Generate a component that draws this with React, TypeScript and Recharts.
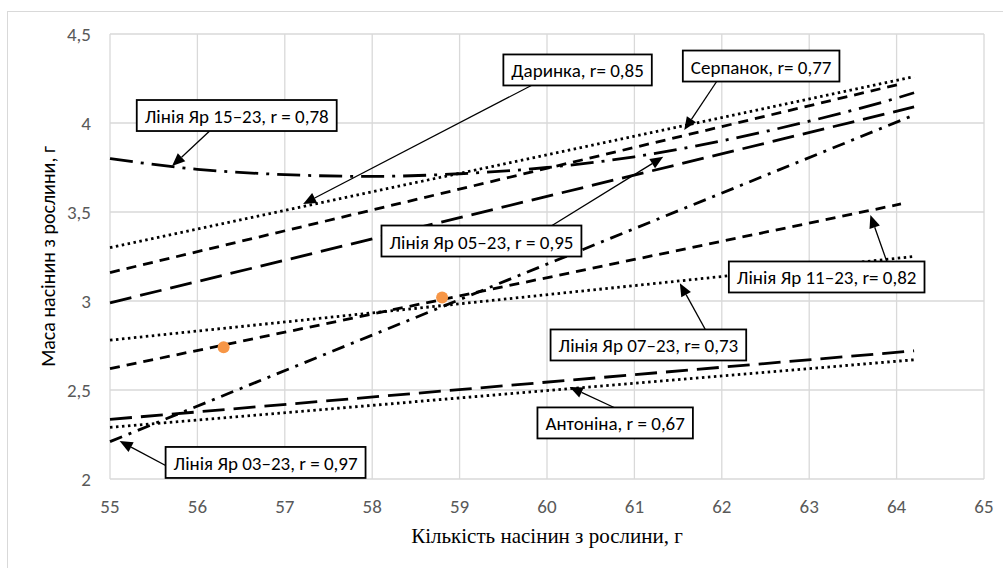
import React from "react";
import {
  ComposedChart,
  Line,
  Scatter,
  XAxis,
  YAxis,
  CartesianGrid,
  ReferenceLine,
  ReferenceDot,
} from "recharts";

// ticks
const xTicks = [55, 56, 57, 58, 59, 60, 61, 62, 63, 64, 65];
const yTicks = [2, 2.5, 3, 3.5, 4, 4.5];

// trend lines
const darynka = [
  { x: 55, y: 3.3 },
  { x: 64.2, y: 4.26 },
];
const serpanok = [
  { x: 55, y: 3.16 },
  { x: 64.05, y: 4.22 },
];
const yar15 = [
  { x: 55, y: 3.8 },
  { x: 56, y: 3.74 },
  { x: 57, y: 3.71 },
  { x: 58, y: 3.7 },
  { x: 59, y: 3.715 },
  { x: 60, y: 3.75 },
  { x: 61, y: 3.81 },
  { x: 62, y: 3.9 },
  { x: 63, y: 4.01 },
  { x: 64, y: 4.14 },
  { x: 64.2, y: 4.17 },
];
const yar05 = [
  { x: 55, y: 2.99 },
  { x: 64.2, y: 4.09 },
];
const yar03 = [
  { x: 55, y: 2.21 },
  { x: 64.2, y: 4.045 },
];
const yar11 = [
  { x: 55, y: 2.62 },
  { x: 64.05, y: 3.545 },
];
const yar07 = [
  { x: 55, y: 2.78 },
  { x: 64.2, y: 3.25 },
];
const antonina = [
  { x: 55, y: 2.29 },
  { x: 64.2, y: 2.67 },
];
const lowerDash = [
  { x: 55, y: 2.335 },
  { x: 64.2, y: 2.72 },
];
const points = [
  { x: 56.3, y: 2.74 },
  { x: 58.8, y: 3.02 },
];

// callouts: box centre, arrow start, arrow tip (data units)
const notes = [
  { text: "Лінія Яр 15–23, r = 0,78", bx: 56.45, by: 4.042, sx: 56.14, sy: 3.955, tx: 55.71, ty: 3.758 },
  { text: "Даринка, r= 0,85", bx: 60.35, by: 4.298, sx: 59.92, sy: 4.236, tx: 57.21, ty: 3.545 },
  { text: "Серпанок, r= 0,77", bx: 62.45, by: 4.32, sx: 61.945, sy: 4.236, tx: 61.57, ty: 3.96 },
  { text: "Лінія Яр 05–23, r = 0,95", bx: 59.25, by: 3.337, sx: 60.03, sy: 3.416, tx: 61.33, ty: 3.81 },
  { text: "Лінія Яр 11–23, r= 0,82", bx: 63.2, by: 3.135, sx: 63.89, sy: 3.219, tx: 63.7, ty: 3.483 },
  { text: "Лінія Яр 07–23, r= 0,73", bx: 61.16, by: 2.753, sx: 61.865, sy: 2.792, tx: 61.52, ty: 3.1 },
  { text: "Антоніна, r = 0,67", bx: 60.78, by: 2.315, sx: 60.78, sy: 2.399, tx: 60.26, ty: 2.517 },
  { text: "Лінія Яр 03–23, r = 0,97", bx: 56.78, by: 2.093, sx: 55.69, sy: 2.062, tx: 55.11, ty: 2.213 },
];

const FONT = "Carlito, Calibri, 'Open Sans', sans-serif";
const BOX_FONT = 19;

let ctx: CanvasRenderingContext2D | null = null;
function textWidth(s: string) {
  if (!ctx) ctx = document.createElement("canvas").getContext("2d");
  if (!ctx) return s.length * 9;
  ctx.font = `${BOX_FONT}px ${FONT}`;
  return ctx.measureText(s).width;
}

function Arrow(props: any) {
  const { x1, y1, x2, y2 } = props;
  const dx = x2 - x1;
  const dy = y2 - y1;
  const len = Math.hypot(dx, dy) || 1;
  const ux = dx / len;
  const uy = dy / len;
  const L = 13;
  const W = 5.5;
  const bx = x2 - ux * L;
  const by = y2 - uy * L;
  const pts = `${x2},${y2} ${bx - uy * W},${by + ux * W} ${bx + uy * W},${by - ux * W}`;
  return (
    <g>
      <line x1={x1} y1={y1} x2={bx} y2={by} stroke="#000" strokeWidth={1.3} />
      <polygon points={pts} fill="#000" />
    </g>
  );
}

function makeBox(text: string) {
  return (p: any) => {
    const w = textWidth(text) + 16;
    const h = 31;
    return (
      <g>
        <rect x={p.cx - w / 2} y={p.cy - h / 2} width={w} height={h} fill="#fff" stroke="#000" strokeWidth={1.8} />
        <text x={p.cx} y={p.cy + 1} textAnchor="middle" dominantBaseline="central" fontSize={BOX_FONT} fontFamily={FONT} fill="#000">
          {text}
        </text>
      </g>
    );
  };
}

const dot = (p: any) => <circle cx={p.cx} cy={p.cy} r={6} fill="#F79646" />;

const lineProps = {
  dataKey: "y",
  stroke: "#000",
  strokeWidth: 2.8,
  dot: false,
  activeDot: false,
  isAnimationActive: false,
  type: "linear" as const,
};

export default function App() {
  return (
    <div
      style={{
        position: "absolute",
        left: 7,
        top: 11,
        width: 996,
        height: 557,
        borderLeft: "1px solid #d9d9d9",
        borderTop: "1px solid #d9d9d9",
        boxSizing: "border-box",
        background: "#fff",
      }}
    >
      <ComposedChart width={995} height={556} margin={{ top: 22, right: 19, left: 22, bottom: 19 }}>
        <CartesianGrid stroke="#d9d9d9" strokeWidth={1.3} />
        <XAxis
          type="number"
          dataKey="x"
          domain={[55, 65]}
          ticks={xTicks}
          axisLine={false}
          tickLine={false}
          tickSize={0}
          tickMargin={21}
          height={70}
          tick={{ fill: "#595959", fontSize: 19, fontFamily: FONT }}
          label={{
            value: "Кількість насінин з рослини, г",
            position: "insideBottom",
            offset: 6,
            style: { fill: "#000", fontSize: 21, fontFamily: "'Liberation Serif', 'Times New Roman', serif" },
          }}
        />
        <YAxis
          type="number"
          domain={[2, 4.5]}
          ticks={yTicks}
          axisLine={false}
          tickLine={false}
          tickSize={0}
          tickMargin={19}
          width={80}
          tickFormatter={(v: number) => String(v).replace(".", ",")}
          tick={{ fill: "#595959", fontSize: 19, fontFamily: FONT }}
          label={{
            value: "Маса насінин з рослини, г",
            angle: -90,
            position: "insideLeft",
            offset: 18,
            style: { textAnchor: "middle", fill: "#000", fontSize: 20, fontFamily: FONT },
          }}
        />
        <Line {...lineProps} data={darynka} strokeDasharray="2.5 3.5" />
        <Line {...lineProps} data={serpanok} strokeDasharray="10 7" />
        <Line {...lineProps} data={yar15} type="monotone" strokeDasharray="23 8 3 8" />
        <Line {...lineProps} data={yar05} strokeDasharray="22 9" />
        <Line {...lineProps} data={yar03} strokeDasharray="13 7 3 7" />
        <Line {...lineProps} data={yar11} strokeDasharray="10 7" />
        <Line {...lineProps} data={yar07} strokeDasharray="2.5 3.5" />
        <Line {...lineProps} data={antonina} strokeDasharray="2.5 3.5" />
        <Line {...lineProps} data={lowerDash} strokeDasharray="22 9" />
        <Scatter data={points} dataKey="y" shape={dot} isAnimationActive={false} />
        {notes.map((n, i) => (
          <ReferenceLine
            key={"a" + i}
            segment={[
              { x: n.sx, y: n.sy },
              { x: n.tx, y: n.ty },
            ]}
            ifOverflow="visible"
            shape={Arrow}
          />
        ))}
        {notes.map((n, i) => (
          <ReferenceDot key={"b" + i} x={n.bx} y={n.by} r={0} ifOverflow="visible" shape={makeBox(n.text)} />
        ))}
      </ComposedChart>
    </div>
  );
}
